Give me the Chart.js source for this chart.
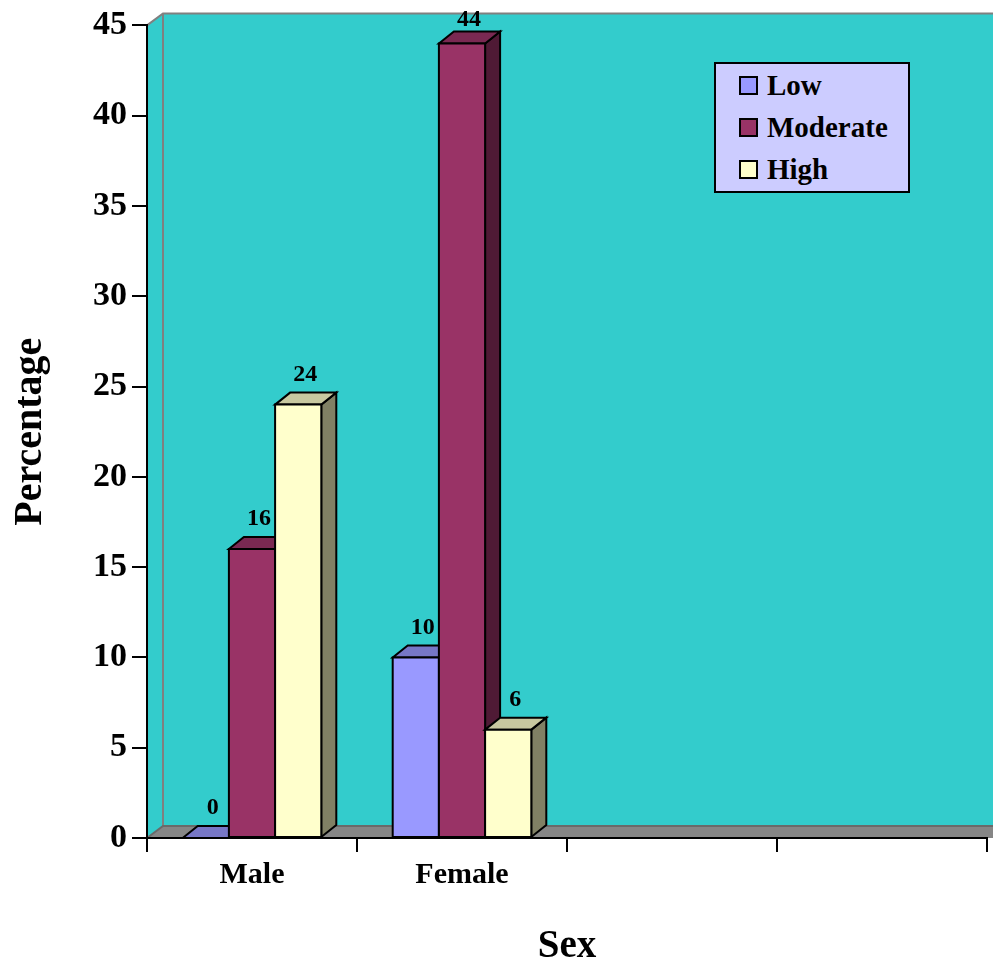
<!DOCTYPE html>
<html><head><meta charset="utf-8">
<script src="https://cdn.jsdelivr.net/npm/chart.js@4"></script>
<style>
html,body{margin:0;padding:0;background:#fff;}
#wrap{position:relative;width:993px;height:967px;}
#legend{position:absolute;left:714px;top:62px;width:192px;height:127px;background:#CCCCFF;border:2px solid #000;font:bold 29px 'Liberation Serif','Times New Roman',serif;color:#000;}
.item{position:absolute;left:23px;height:42px;display:flex;align-items:center;white-space:nowrap;}
.sw{box-sizing:border-box;width:19px;height:19px;border:2px solid #000;margin-right:9px;}
</style></head>
<body><div id="wrap"><canvas id="c" width="993" height="967"></canvas><div id="legend"></div></div>
<script>
// ---- data ----
const categories = ['Male', 'Female', '', ''];
const lowValues = [0, 10, null, null];
const moderateValues = [16, 44, null, null];
const highValues = [24, 6, null, null];
const seriesNames = ['Low', 'Moderate', 'High'];
const yMin = 0, yMax = 45, yStep = 5;
const xTitle = 'Sex', yTitle = 'Percentage';

// ---- styles ----
const frontColors = ['#9999FF', '#993366', '#FFFFCC'];
const topColors = ['#7777C6', '#7A2952', '#C8C8A0'];
const sideColors = ['#4D4D80', '#4F1A35', '#808064'];
const DX = 15, DY = 12, WALL_DX = 16, WALL_DY = 12;
const FONT = "'Liberation Serif','Times New Roman',serif";
Chart.defaults.font.family = FONT;
Chart.defaults.color = '#000';

const values = [lowValues, moderateValues, highValues];

const wallPlugin = {
  id: 'wall',
  beforeDraw(chart) {
    const { ctx, chartArea: a } = chart;
    const W = chart.width;
    ctx.save();
    ctx.fillStyle = '#33CCCC';
    ctx.beginPath();
    ctx.moveTo(a.left, a.bottom);
    ctx.lineTo(a.left, a.top);
    ctx.lineTo(a.left + WALL_DX, a.top - WALL_DY);
    ctx.lineTo(W, a.top - WALL_DY);
    ctx.lineTo(W, a.bottom);
    ctx.closePath();
    ctx.fill();
    // floor
    ctx.fillStyle = '#868686';
    ctx.beginPath();
    ctx.moveTo(a.left, a.bottom);
    ctx.lineTo(a.left + WALL_DX, a.bottom - WALL_DY);
    ctx.lineTo(W, a.bottom - WALL_DY);
    ctx.lineTo(W, a.bottom);
    ctx.closePath();
    ctx.fill();
    // wall edges
    ctx.strokeStyle = '#808080';
    ctx.lineWidth = 2;
    ctx.beginPath();
    ctx.moveTo(a.left, a.top);
    ctx.lineTo(a.left + WALL_DX, a.top - WALL_DY);
    ctx.lineTo(W, a.top - WALL_DY);
    ctx.moveTo(a.left + WALL_DX, a.top - WALL_DY);
    ctx.lineTo(a.left + WALL_DX, a.bottom - WALL_DY);
    ctx.stroke();
    ctx.strokeStyle = '#6A6A6A';
    ctx.beginPath();
    ctx.moveTo(a.left, a.bottom);
    ctx.lineTo(a.left + WALL_DX, a.bottom - WALL_DY);
    ctx.lineTo(W, a.bottom - WALL_DY);
    ctx.stroke();
    ctx.restore();
  }
};

const barsPlugin = {
  id: 'bars3d',
  beforeDatasetsDraw(chart) {
    const ctx = chart.ctx;
    const a = chart.chartArea;
    const n = chart.data.labels.length;
    const nd = chart.data.datasets.length;
    ctx.save();
    ctx.lineWidth = 2;
    ctx.lineJoin = 'miter';
    ctx.strokeStyle = '#000';
    for (let j = 0; j < n; j++) {
      for (let i = 0; i < nd; i++) {
        const v = chart.data.datasets[i].data[j];
        if (v === null || v === undefined) continue;
        const el = chart.getDatasetMeta(i).data[j];
        const p = el.getProps(['x', 'y', 'base', 'width'], true);
        const l = p.x - p.width / 2, r = p.x + p.width / 2, t = p.y, b = p.base;
        // side
        ctx.fillStyle = sideColors[i];
        ctx.beginPath();
        ctx.moveTo(r, t); ctx.lineTo(r + DX, t - DY); ctx.lineTo(r + DX, b - DY); ctx.lineTo(r, b); ctx.closePath();
        ctx.fill(); ctx.stroke();
        // top
        ctx.fillStyle = topColors[i];
        ctx.beginPath();
        ctx.moveTo(l, t); ctx.lineTo(l + DX, t - DY); ctx.lineTo(r + DX, t - DY); ctx.lineTo(r, t); ctx.closePath();
        ctx.fill(); ctx.stroke();
        // front
        ctx.fillStyle = frontColors[i];
        ctx.beginPath();
        ctx.rect(l, t, r - l, b - t);
        ctx.fill(); ctx.stroke();
        // label
        ctx.fillStyle = '#000';
        ctx.font = 'bold 24px ' + FONT;
        ctx.textAlign = 'center';
        ctx.textBaseline = 'middle';
        ctx.fillText(String(v), p.x + 7, Math.max(t - DY - 18, a.top - 6));
      }
    }
    ctx.restore();
    return false;
  }
};

new Chart(document.getElementById('c'), {
  type: 'bar',
  data: {
    labels: categories,
    datasets: seriesNames.map((name, i) => ({
      label: name,
      data: values[i],
      backgroundColor: frontColors[i],
      borderColor: '#000',
      borderWidth: 2
    }))
  },
  options: {
    responsive: false,
    animation: false,
    devicePixelRatio: 1,
    layout: { padding: { top: 24, right: 6, left: 0, bottom: 0 } },
    plugins: { legend: { display: false }, tooltip: { enabled: false } },
    datasets: { bar: { categoryPercentage: 0.66, barPercentage: 1 } },
    scales: {
      x: {
        grid: { offset: true, drawOnChartArea: false, color: '#000', lineWidth: 2, tickLength: 14 },
        border: { color: '#000', width: 2 },
        ticks: { color: '#000', font: { size: 30, weight: 'bold' }, padding: 5, maxRotation: 0, autoSkip: false },
        title: { display: true, text: xTitle, color: '#000', font: { size: 39, weight: 'bold', lineHeight: 1 }, padding: { top: 0, bottom: 1 } },
        afterFit(s) { s.height = 129; }
      },
      y: {
        min: yMin, max: yMax,
        ticks: { stepSize: yStep, color: '#000', font: { size: 34, weight: 'bold' }, padding: 5 },
        grid: { drawOnChartArea: false, color: '#000', lineWidth: 2, tickLength: 15 },
        border: { color: '#000', width: 2 },
        title: { display: true, text: yTitle, color: '#000', font: { size: 40, weight: 'bold', lineHeight: 1 }, padding: { top: 11, bottom: 0 } },
        afterFit(s) { s.width = 147; }
      }
    }
  },
  plugins: [wallPlugin, barsPlugin]
});

// HTML legend
const lg = document.getElementById('legend');
seriesNames.forEach((name, i) => {
  const it = document.createElement('div');
  it.className = 'item';
  it.style.top = (i * 42) + 'px';
  const sw = document.createElement('span');
  sw.className = 'sw';
  sw.style.background = frontColors[i];
  const tx = document.createElement('span');
  tx.textContent = name;
  it.appendChild(sw); it.appendChild(tx);
  lg.appendChild(it);
});
</script>
</body></html>
